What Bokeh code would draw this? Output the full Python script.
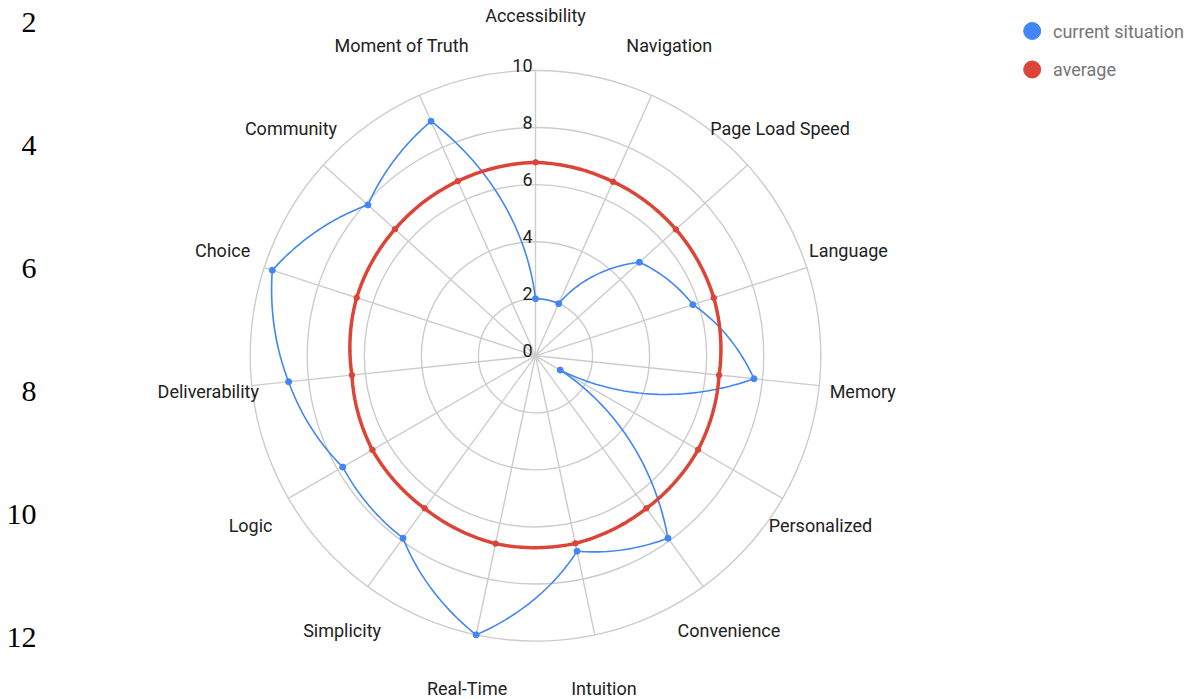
import numpy as np
from bokeh.plotting import figure
from bokeh.models import Range1d
from bokeh.core.properties import value
from bokeh.embed import file_html
from bokeh.resources import INLINE

# ---------------- data ----------------
categories = ["Accessibility", "Navigation", "Page Load Speed", "Language", "Memory",
              "Personalized", "Convenience", "Intuition", "Real-Time", "Simplicity",
              "Logic", "Deliverability", "Choice", "Community", "Moment of Truth"]
current_situation = [2.0, 2.0, 4.9, 5.8, 7.7, 1.0, 7.9, 7.0, 10.0, 7.9, 7.8, 8.7, 9.7, 7.9, 9.0]
average = [6.78, 6.68, 6.62, 6.57, 6.47, 6.58, 6.61, 6.72, 6.73, 6.61, 6.6, 6.47, 6.59, 6.63, 6.7]
ring_ticks = [0, 2, 4, 6, 8, 10]
side_ticks = [2, 4, 6, 8, 10, 12]
series_names = ["current situation", "average"]
series_colors = ["#4285F4", "#DB4437"]

# ---------------- layout ----------------
W, H = 1191, 699
CX, CY = 535.0, 355.3       # pixel centre of the radar
U = 28.53                   # pixels per value unit
RMAX = 10

p = figure(width=W, height=H, output_backend="svg", toolbar_location=None,
           x_range=Range1d(-CX / U, (W - CX) / U),
           y_range=Range1d(-(H - CY) / U, CY / U),
           x_axis_type=None, y_axis_type=None, min_border=0,
           background_fill_color="white", border_fill_color="white")
p.outline_line_color = None
p.grid.visible = False

def px(xp, yp):
    return (xp - CX) / U, (CY - yp) / U

n = len(categories)
theta = np.arange(n) * 2 * np.pi / n

# grid rings and spokes
p.circle(x=[0] * (len(ring_ticks) - 1), y=[0] * (len(ring_ticks) - 1), radius=ring_ticks[1:],
         fill_color=None, line_color="#cccccc", line_width=1.4)
p.segment(x0=np.zeros(n), y0=np.zeros(n), x1=RMAX * np.sin(theta), y1=RMAX * np.cos(theta),
          line_color="#cccccc", line_width=1.4)

# ring value labels
p.text(x=[0] * len(ring_ticks), y=ring_ticks, text=[str(t) for t in ring_ticks],
       text_align="right", text_baseline="alphabetic", x_offset=-3, y_offset=-5,
       text_font=value("Roboto"), text_font_size="18px", text_color="#222222")

# category labels
lab_x = 329.0 / U * np.sin(theta)
lab_y = 340.0 / U * np.cos(theta)
p.text(x=lab_x, y=lab_y, text=categories,
       text_align="center", text_baseline="middle",
       text_font=value("Roboto"), text_font_size="18px", text_color="#222222")

# series: straight lines in polar space (spiral segments)
def polar_path(vals, steps=40):
    xs, ys = [], []
    for i in range(n):
        j = (i + 1) % n
        t = np.linspace(0, 1, steps, endpoint=False)
        th = theta[i] + t * (2 * np.pi / n)
        r = vals[i] + t * (vals[j] - vals[i])
        xs.append(r * np.sin(th)); ys.append(r * np.cos(th))
    xs.append([vals[0] * np.sin(theta[0])]); ys.append([vals[0] * np.cos(theta[0])])
    return np.concatenate(xs), np.concatenate(ys)

for vals, col, lw, ms in [(current_situation, series_colors[0], 1.6, 6),
                          (average, series_colors[1], 3.5, 5.5)]:
    vals = np.asarray(vals, dtype=float)
    lx, ly = polar_path(vals)
    p.line(lx, ly, line_color=col, line_width=lw)
    p.scatter(vals * np.sin(theta), vals * np.cos(theta), size=ms, fill_color=col, line_color=col)

# legend (drawn manually)
for k, (name, col) in enumerate(zip(series_names, series_colors)):
    gx, gy = px(1031.7, 30.5 + k * 38.5)
    tx, _ = px(1052.5, 0)
    p.scatter([gx], [gy], size=17, fill_color=col, line_color=col)
    p.text(x=[tx], y=[gy], text=[name], text_align="left", text_baseline="middle",
           text_font=value("Roboto"), text_font_size="18px", text_color="#757575")

# stray side axis numbers on the left
p.extra_y_ranges = {"side": Range1d(start=13.017, end=1.642)}
sx, _ = px(36, 0)
p.text(x=[sx] * len(side_ticks), y=side_ticks, text=[str(t) for t in side_ticks],
       y_range_name="side", text_align="right", text_baseline="alphabetic", y_offset=0,
       text_font=value("Liberation Serif"), text_font_size="30px", text_color="#000000")

open("out.html", "w").write(file_html(p, INLINE))
